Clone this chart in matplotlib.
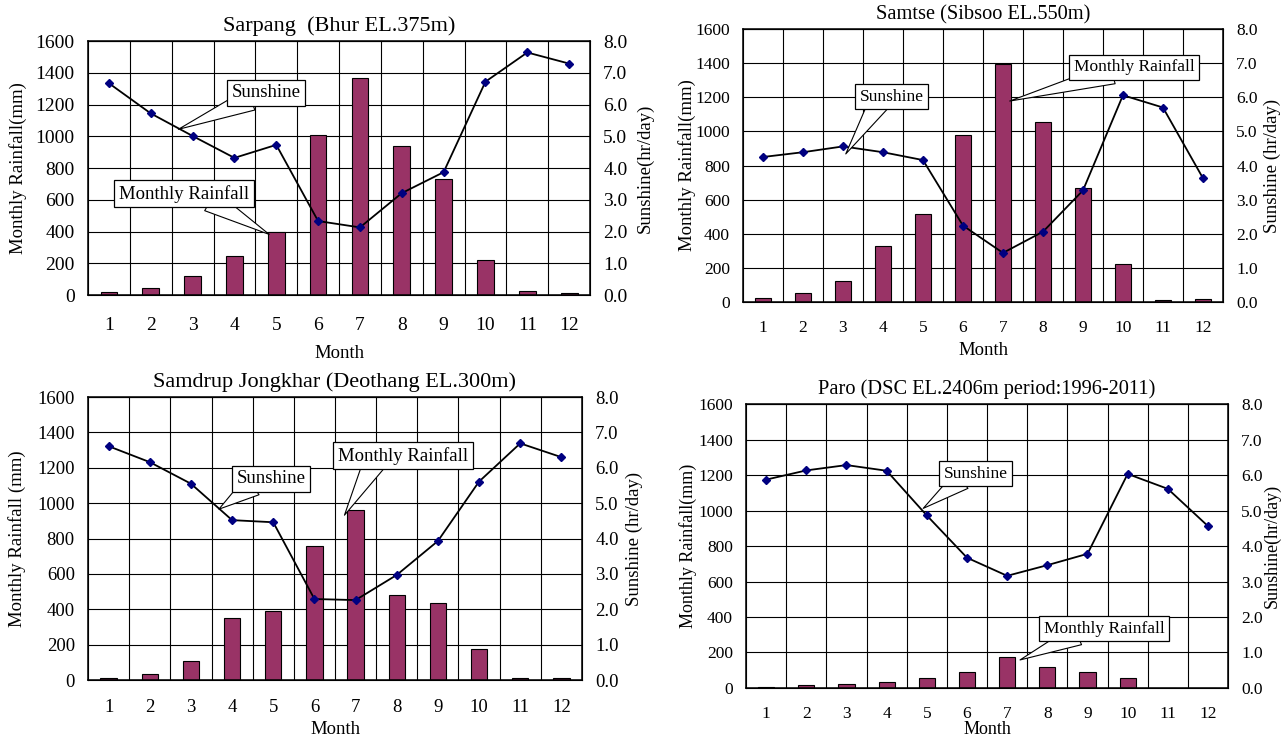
import matplotlib
matplotlib.use("Agg")
import matplotlib.pyplot as plt
from matplotlib.ticker import FormatStrFormatter

plt.rcParams["font.family"] = ["Liberation Serif", "DejaVu Serif"]

months = list(range(1, 13))

sarpang_rain = [19, 42, 117, 247, 396, 1006, 1367, 941, 728, 220, 24, 15]
sarpang_sun = [6.67, 5.72, 5.01, 4.32, 4.73, 2.33, 2.13, 3.21, 3.87, 6.72, 7.64, 7.29]

samtse_rain = [25, 55, 121, 328, 518, 978, 1398, 1056, 667, 223, 14, 17]
samtse_sun = [4.25, 4.39, 4.56, 4.39, 4.16, 2.24, 1.44, 2.06, 3.27, 6.06, 5.70, 3.63]

samdrup_rain = [13, 34, 106, 353, 389, 757, 959, 482, 434, 178, 12, 12]
samdrup_sun = [6.61, 6.16, 5.55, 4.52, 4.46, 2.29, 2.26, 2.97, 3.93, 5.61, 6.69, 6.30]

paro_rain = [6, 15, 21, 34, 56, 90, 177, 118, 92, 56, 2, 2]
paro_sun = [5.87, 6.13, 6.28, 6.12, 4.86, 3.67, 3.16, 3.46, 3.78, 6.03, 5.61, 4.56]

BAR_COLOR = "#993366"
MARKER_COLOR = "#000080"

fig = plt.figure(figsize=(12.83, 7.37), dpi=100)

# one dict per panel: layout + label text (values come from the lists above)
panels = [
    dict(rect=[0.0686, 0.5997, 0.3913, 0.3446], rain=sarpang_rain, sun=sarpang_sun,
         title="Sarpang  (Bhur EL.375m)", tsize=16, fs=14, lsize=13.5,
         ylab="Monthly Rainfall(mm)", ylab2="Sunshine(hr/day)",
         lx=-0.121, rx=1.093, my=-0.197, xpad=16,
         sun_box=(4.75, 6.37, 0.28), sun_tip=(2.66, 5.22),
         rain_box=(2.80, 3.19, 0.70), rain_tip=(4.83, 1.91), bsize=13.5),
    dict(rect=[0.5791, 0.5902, 0.3741, 0.3704], rain=samtse_rain, sun=samtse_sun,
         title="Samtse (Sibsoo EL.550m)", tsize=14.7, fs=12.5, lsize=13.5,
         ylab="Monthly Rainfall(mm)", ylab2="Sunshine (hr/day)",
         lx=-0.098, rx=1.085, my=-0.147, xpad=13,
         sun_box=(4.22, 6.02, 0.30), sun_tip=(3.07, 4.34),
         rain_box=(10.28, 6.88, 0.32), rain_tip=(7.17, 5.89), bsize=12.5),
    dict(rect=[0.0686, 0.0773, 0.3850, 0.3840], rain=samdrup_rain, sun=samdrup_sun,
         title="Samdrup Jongkhar (Deothang EL.300m)", tsize=16, fs=13.5, lsize=13.5,
         ylab="Monthly Rainfall (mm)", ylab2="Sunshine (hr/day)",
         lx=-0.126, rx=1.089, my=-0.143, xpad=14,
         sun_box=(4.95, 5.69, 0.23), sun_tip=(3.68, 4.83),
         rain_box=(8.15, 6.34, 0.28), rain_tip=(6.73, 4.66), bsize=13.5),
    dict(rect=[0.5815, 0.0665, 0.3757, 0.3853], rain=paro_rain, sun=paro_sun,
         title="Paro (DSC EL.2406m period:1996-2011)", tsize=14.7, fs=12.5, lsize=13,
         ylab="Monthly Rainfall(mm)", ylab2="Sunshine(hr/day)",
         lx=-0.101, rx=1.074, my=-0.118, xpad=13,
         sun_box=(6.22, 6.04, 0.28), sun_tip=(4.91, 5.06),
         rain_box=(9.41, 1.67, 0.28), rain_tip=(7.32, 0.79), bsize=12.5),
]


def callout(ax, text, box, tip, size):
    bx, by, rel = box
    ax.annotate(text, xy=tip, xytext=(bx, by), ha="center", va="center",
                fontsize=size, zorder=10,
                bbox=dict(boxstyle="square,pad=0.25", fc="white", ec="black", lw=0.9),
                arrowprops=dict(arrowstyle="wedge,tail_width=1.2,shrink_factor=0.5",
                                fc="white", ec="black", lw=0.8, relpos=(rel, 0.1),
                                patchA=None, shrinkA=0, shrinkB=0))


for p in panels:
    ax = fig.add_axes(p["rect"])
    ax.set_axisbelow(True)
    ax.bar(months, p["rain"], width=0.4, color=BAR_COLOR, edgecolor="black", linewidth=0.8)
    ax.set_xlim(0.5, 12.5)
    ax.set_ylim(0, 1600)
    ax.set_yticks(range(0, 1601, 200))
    ax.set_xticks(months)
    ax.set_xticks([m + 0.5 for m in months[:-1]], minor=True)
    ax.grid(True, which="major", axis="y", color="black", lw=0.8)
    ax.grid(True, which="minor", axis="x", color="black", lw=0.8)
    ax.tick_params(axis="x", which="both", length=0, labelsize=p["fs"], pad=p["xpad"])
    ax.tick_params(axis="y", length=0, labelsize=p["fs"], pad=9.5)
    for s in ax.spines.values():
        s.set_linewidth(1.1)
    ax.set_title(p["title"], fontsize=p["tsize"], pad=7)
    ax.set_ylabel(p["ylab"], fontsize=p["lsize"])
    ax.yaxis.set_label_coords(p["lx"], 0.5)
    ax.set_xlabel("Month", fontsize=p["lsize"])
    ax.xaxis.set_label_coords(0.5, p["my"])

    ax2 = ax.twinx()
    ax2.plot(months, p["sun"], color="black", lw=1.3, marker="D", markersize=4.5,
             markerfacecolor=MARKER_COLOR, markeredgecolor=MARKER_COLOR)
    ax2.set_ylim(0, 8)
    ax2.set_yticks(range(0, 9))
    ax2.yaxis.set_major_formatter(FormatStrFormatter("%.1f"))
    ax2.tick_params(axis="y", length=0, labelsize=p["fs"], pad=9.5)
    ax2.set_ylabel(p["ylab2"], fontsize=p["lsize"], rotation=90)
    ax2.yaxis.set_label_coords(p["rx"], 0.5)

    callout(ax2, "Sunshine", p["sun_box"], p["sun_tip"], p["bsize"])
    callout(ax2, "Monthly Rainfall", p["rain_box"], p["rain_tip"], p["bsize"])

fig.savefig("out.png", dpi=100)
